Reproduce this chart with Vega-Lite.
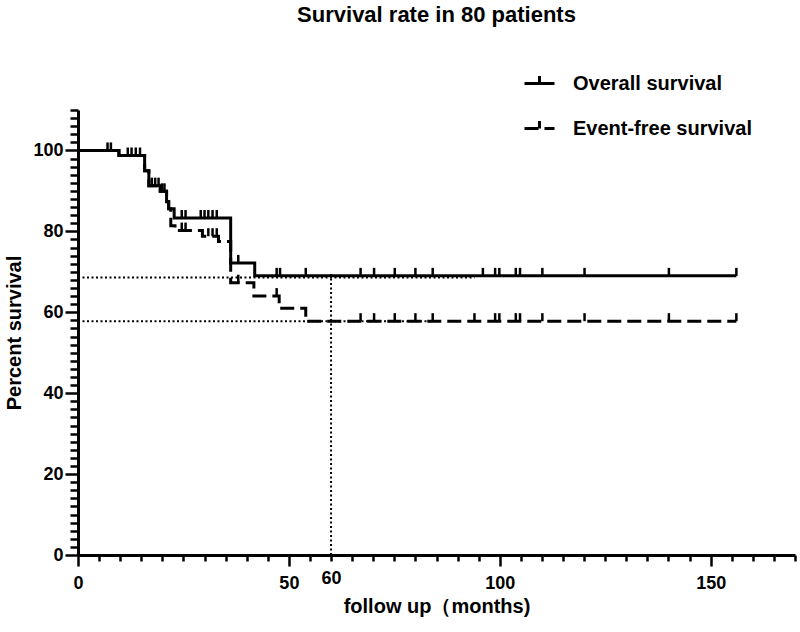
{
  "$schema": "https://vega.github.io/schema/vega-lite/v6.json",
  "width": 717,
  "height": 445,
  "autosize": {"type": "none"},
  "padding": {"left": 78, "top": 110, "right": 5, "bottom": 77},
  "background": "white",
  "config": {"view": {"stroke": null}, "font": "Liberation Sans"},
  "title": {"text": "Survival rate in 80 patients", "fontSize": 22, "fontWeight": "bold", "font": "Liberation Sans", "color": "black", "anchor": "middle", "frame": "group", "baseline": "alphabetic", "offset": 23},
  "datasets": {
    "km": [
      {"series": "Event-free survival", "month": 0, "surv": 100},
      {"series": "Event-free survival", "month": 9.7, "surv": 98.75},
      {"series": "Event-free survival", "month": 15.8, "surv": 95.0},
      {"series": "Event-free survival", "month": 16.8, "surv": 91.3},
      {"series": "Event-free survival", "month": 19.5, "surv": 89.9},
      {"series": "Event-free survival", "month": 21.0, "surv": 87.3},
      {"series": "Event-free survival", "month": 21.5, "surv": 85.6},
      {"series": "Event-free survival", "month": 22.0, "surv": 81.4},
      {"series": "Event-free survival", "month": 23.0, "surv": 80.2},
      {"series": "Event-free survival", "month": 29.5, "surv": 78.8},
      {"series": "Event-free survival", "month": 33.3, "surv": 77.5},
      {"series": "Event-free survival", "month": 36.2, "surv": 67.3},
      {"series": "Event-free survival", "month": 41.7, "surv": 64.0},
      {"series": "Event-free survival", "month": 47.7, "surv": 61.0},
      {"series": "Event-free survival", "month": 54.0, "surv": 57.8},
      {"series": "Event-free survival", "month": 156.1, "surv": 57.8},
      {"series": "Overall survival", "month": 0, "surv": 100},
      {"series": "Overall survival", "month": 9.7, "surv": 98.75},
      {"series": "Overall survival", "month": 15.8, "surv": 95.0},
      {"series": "Overall survival", "month": 16.8, "surv": 91.3},
      {"series": "Overall survival", "month": 19.5, "surv": 89.9},
      {"series": "Overall survival", "month": 21.0, "surv": 87.3},
      {"series": "Overall survival", "month": 21.5, "surv": 85.6},
      {"series": "Overall survival", "month": 22.8, "surv": 83.3},
      {"series": "Overall survival", "month": 36.2, "surv": 72.2},
      {"series": "Overall survival", "month": 41.9, "surv": 69.0},
      {"series": "Overall survival", "month": 156.1, "surv": 69.0}
    ],
    "censor": [
      {"series": "Overall survival", "month": 7.0, "surv": 100},
      {"series": "Overall survival", "month": 7.8, "surv": 100},
      {"series": "Overall survival", "month": 11.8, "surv": 98.75},
      {"series": "Overall survival", "month": 12.7, "surv": 98.75},
      {"series": "Overall survival", "month": 13.7, "surv": 98.75},
      {"series": "Overall survival", "month": 14.7, "surv": 98.75},
      {"series": "Overall survival", "month": 17.5, "surv": 91.3},
      {"series": "Overall survival", "month": 18.3, "surv": 91.3},
      {"series": "Overall survival", "month": 19.1, "surv": 91.3},
      {"series": "Overall survival", "month": 19.9, "surv": 89.9},
      {"series": "Overall survival", "month": 20.5, "surv": 89.9},
      {"series": "Overall survival", "month": 24.6, "surv": 83.3},
      {"series": "Overall survival", "month": 25.5, "surv": 83.3},
      {"series": "Overall survival", "month": 29.1, "surv": 83.3},
      {"series": "Overall survival", "month": 30.0, "surv": 83.3},
      {"series": "Overall survival", "month": 30.9, "surv": 83.3},
      {"series": "Overall survival", "month": 31.9, "surv": 83.3},
      {"series": "Overall survival", "month": 32.9, "surv": 83.3},
      {"series": "Overall survival", "month": 38.0, "surv": 72.2},
      {"series": "Overall survival", "month": 47.1, "surv": 69.0},
      {"series": "Overall survival", "month": 47.9, "surv": 69.0},
      {"series": "Overall survival", "month": 54.0, "surv": 69.0},
      {"series": "Overall survival", "month": 67.0, "surv": 69.0},
      {"series": "Overall survival", "month": 70.2, "surv": 69.0},
      {"series": "Overall survival", "month": 75.1, "surv": 69.0},
      {"series": "Overall survival", "month": 80.0, "surv": 69.0},
      {"series": "Overall survival", "month": 84.1, "surv": 69.0},
      {"series": "Overall survival", "month": 96.0, "surv": 69.0},
      {"series": "Overall survival", "month": 98.9, "surv": 69.0},
      {"series": "Overall survival", "month": 99.9, "surv": 69.0},
      {"series": "Overall survival", "month": 103.8, "surv": 69.0},
      {"series": "Overall survival", "month": 104.8, "surv": 69.0},
      {"series": "Overall survival", "month": 110.1, "surv": 69.0},
      {"series": "Overall survival", "month": 120.1, "surv": 69.0},
      {"series": "Overall survival", "month": 140.1, "surv": 69.0},
      {"series": "Overall survival", "month": 156.1, "surv": 69.0},
      {"series": "Event-free survival", "month": 24.6, "surv": 80.2},
      {"series": "Event-free survival", "month": 25.5, "surv": 80.2},
      {"series": "Event-free survival", "month": 30.9, "surv": 78.8},
      {"series": "Event-free survival", "month": 31.9, "surv": 78.8},
      {"series": "Event-free survival", "month": 32.9, "surv": 78.8},
      {"series": "Event-free survival", "month": 38.0, "surv": 67.3},
      {"series": "Event-free survival", "month": 47.1, "surv": 64.0},
      {"series": "Event-free survival", "month": 67.0, "surv": 57.8},
      {"series": "Event-free survival", "month": 70.2, "surv": 57.8},
      {"series": "Event-free survival", "month": 75.1, "surv": 57.8},
      {"series": "Event-free survival", "month": 80.0, "surv": 57.8},
      {"series": "Event-free survival", "month": 84.1, "surv": 57.8},
      {"series": "Event-free survival", "month": 94.0, "surv": 57.8},
      {"series": "Event-free survival", "month": 98.9, "surv": 57.8},
      {"series": "Event-free survival", "month": 99.9, "surv": 57.8},
      {"series": "Event-free survival", "month": 103.8, "surv": 57.8},
      {"series": "Event-free survival", "month": 104.8, "surv": 57.8},
      {"series": "Event-free survival", "month": 110.1, "surv": 57.8},
      {"series": "Event-free survival", "month": 120.1, "surv": 57.8},
      {"series": "Event-free survival", "month": 140.1, "surv": 57.8},
      {"series": "Event-free survival", "month": 156.1, "surv": 57.8}
    ],
    "refs": [
      {"month": 0, "month2": 94, "surv": 68.6, "surv2": 68.6},
      {"month": 0, "month2": 84, "surv": 57.8, "surv2": 57.8},
      {"month": 60, "month2": 60, "surv": 0, "surv2": 70}
    ]
  },
  "encoding": {
    "x": {
      "field": "month", "type": "quantitative",
      "scale": {"domain": [0, 170], "nice": false, "zero": true},
      "axis": {
        "values": [0,5,10,15,20,25,30,35,40,45,50,55,60,65,70,75,80,85,90,95,100,105,110,115,120,125,130,135,140,145,150,155,160,165,170],
        "labelExpr": "(datum.value == 0 || datum.value == 50 || datum.value == 60 || datum.value == 100 || datum.value == 150) ? datum.label : ''",
        "labelOverlap": false, "labelFlush": false, "grid": false,
        "tickSize": {"condition": {"test": "datum.value % 50 === 0", "value": 11}, "value": 6},
        "tickWidth": 2.5, "tickColor": "black", "domainWidth": 3, "domainColor": "black",
        "labelFontSize": 18, "labelFontWeight": "bold", "labelFont": "Liberation Sans", "labelColor": "black", "labelPadding": 8,
        "title": "follow up（months)", "titleFontSize": 20, "titleFontWeight": "bold", "titleFont": "Liberation Sans", "titleColor": "black",
        "titleY": 57, "titleBaseline": "alphabetic"
      }
    },
    "y": {
      "field": "surv", "type": "quantitative",
      "scale": {"domain": [0, 110], "nice": false},
      "axis": {
        "values": [0,2,4,6,8,10,12,14,16,18,20,22,24,26,28,30,32,34,36,38,40,42,44,46,48,50,52,54,56,58,60,62,64,66,68,70,72,74,76,78,80,82,84,86,88,90,92,94,96,98,100,102,104,106,108,110],
        "labelExpr": "(datum.value % 20 === 0 && datum.value <= 100) ? datum.label : ''",
        "labelOverlap": false, "labelFlush": false, "grid": false,
        "tickSize": {"condition": {"test": "datum.value % 20 === 0 && datum.value <= 100", "value": 13}, "value": 8},
        "tickWidth": 2.5, "tickColor": "black", "domainWidth": 3, "domainColor": "black",
        "labelFontSize": 18, "labelFontWeight": "bold", "labelFont": "Liberation Sans", "labelColor": "black", "labelPadding": 2,
        "title": "Percent survival", "titleFontSize": 20, "titleFontWeight": "bold", "titleFont": "Liberation Sans", "titleColor": "black",
        "titleX": -64, "titleBaseline": "middle"
      }
    }
  },
  "layer": [
    {
      "data": {"name": "refs"},
      "mark": {"type": "rule", "strokeDash": [2, 2.5], "strokeWidth": 2, "color": "black"},
      "encoding": {"x2": {"field": "month2"}, "y2": {"field": "surv2"}}
    },
    {
      "data": {"name": "km"},
      "mark": {"type": "line", "interpolate": "step-after", "strokeWidth": 3, "color": "black"},
      "encoding": {
        "detail": {"field": "series"},
        "strokeDash": {
          "field": "series", "type": "nominal",
          "scale": {"domain": ["Overall survival", "Event-free survival"], "range": [[1, 0], [14, 6]]},
          "legend": {
            "title": null, "orient": "none", "legendX": 445, "legendY": -43,
            "symbolType": "M-1,0L1,0M0,0L0,-0.5", "symbolSize": 900, "symbolStrokeWidth": 3, "symbolStrokeColor": "black",
            "labelFontSize": 20, "labelFontWeight": "bold", "labelFont": "Liberation Sans", "labelColor": "black", "labelLimit": 400,
            "labelOffset": 17, "rowPadding": 18, "padding": 0
          }
        }
      }
    },
    {
      "data": {"name": "censor"},
      "mark": {"type": "point", "shape": "M0,0L0,-1", "size": 256, "strokeWidth": 2.5, "filled": false, "color": "black", "opacity": 1}
    }
  ]
}
